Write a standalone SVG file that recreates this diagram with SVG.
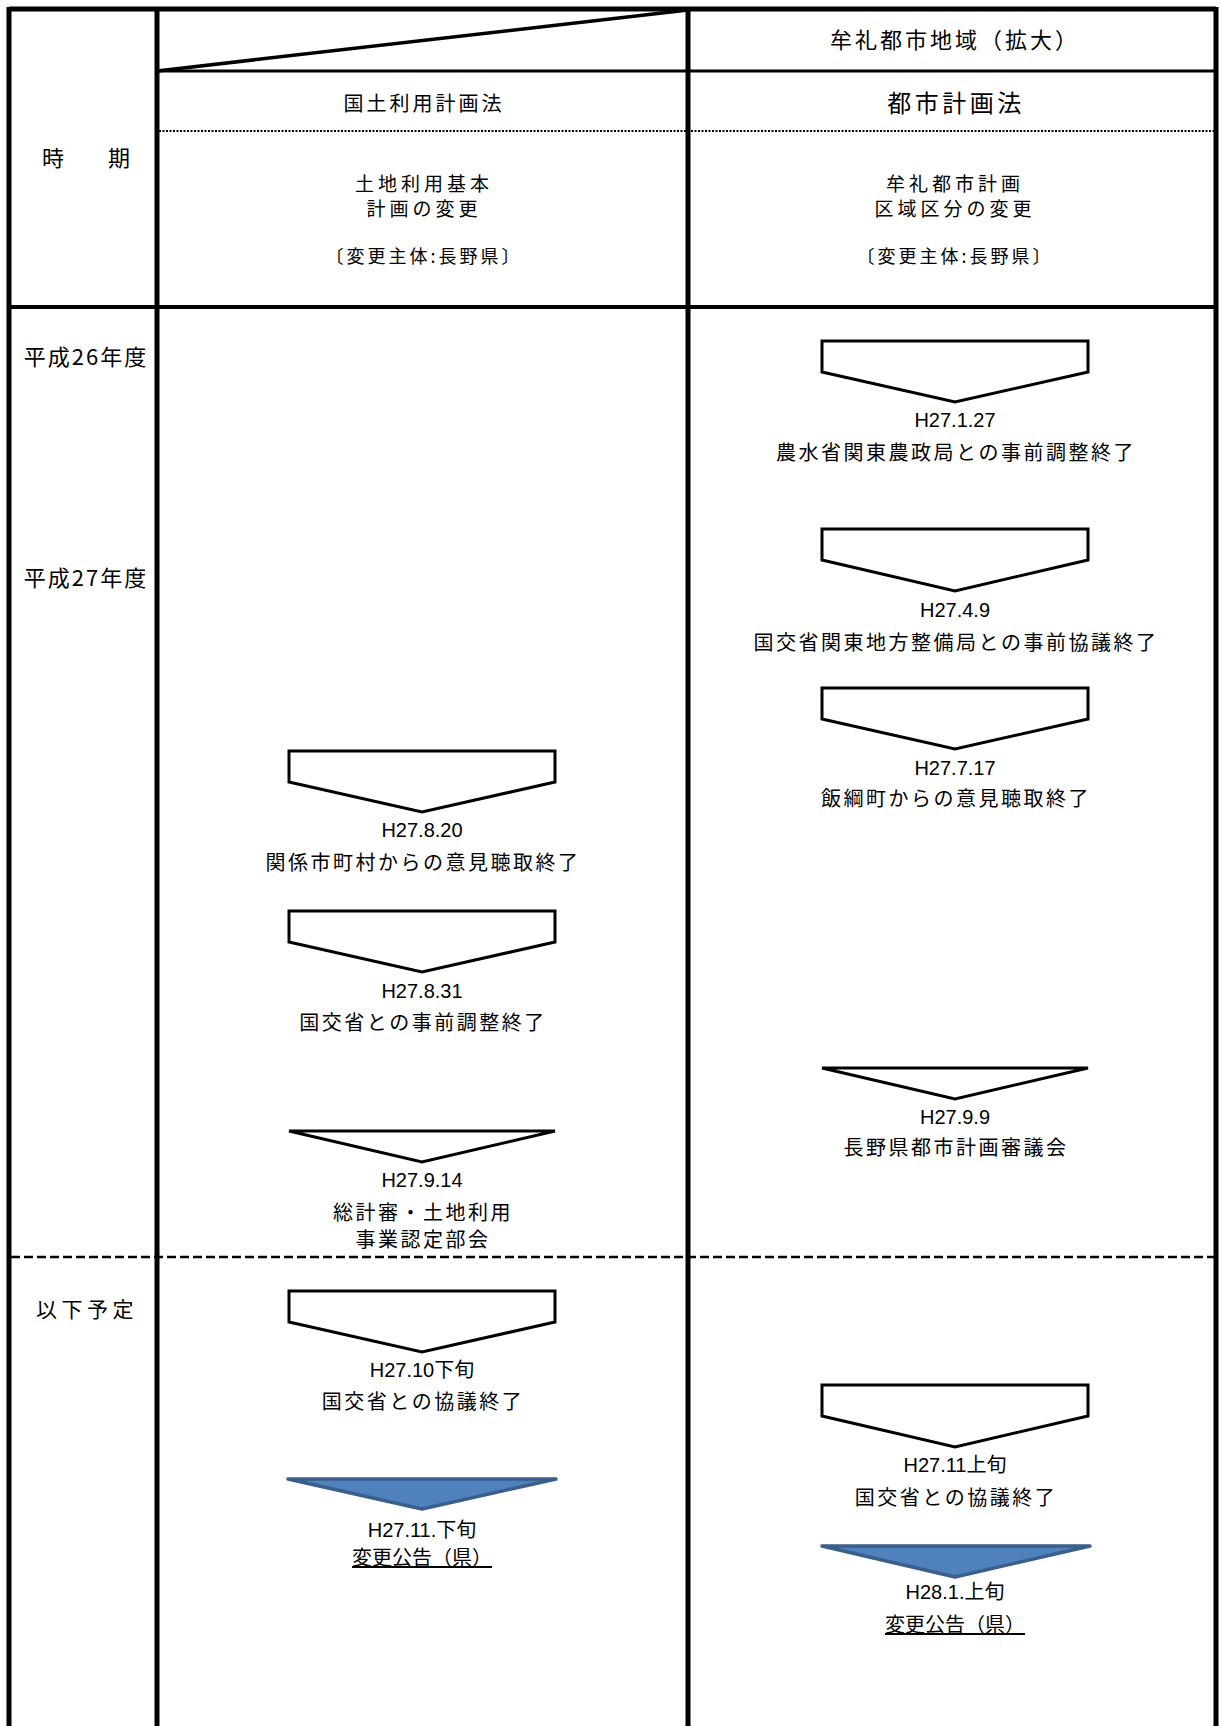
<svg xmlns="http://www.w3.org/2000/svg" width="1221" height="1726" viewBox="0 0 1221 1726">
<style>
.bg{fill:#ffffff}
.frame{stroke:#000;stroke-width:5;fill:none}
.thin{stroke:#000;stroke-width:3;fill:none}
.dot{stroke:#000;stroke-width:2;stroke-dasharray:2 1.5;fill:none}
.dash{stroke:#000;stroke-width:2.5;stroke-dasharray:9 4;fill:none}
.arw{fill:#fff;stroke:#000;stroke-width:3;stroke-linejoin:miter}
.blue{fill:#4F81BD;stroke:#3A5F8B;stroke-width:3.5;stroke-linejoin:round}
text{font-family:"Noto Sans CJK JP","Noto Sans CJK SC",sans-serif;fill:#000;text-anchor:middle}
.t{font-size:20px;letter-spacing:2.5px}
.d{font-family:"Liberation Sans","Noto Sans CJK JP",sans-serif;font-size:20px}
.h{font-size:20px;letter-spacing:3px}
.h2{font-size:19px;letter-spacing:4px}
.s{font-size:18px;letter-spacing:3px}
.p{font-size:22px;letter-spacing:2px}
.u{text-decoration:underline}
</style>
<rect class="bg" x="0" y="0" width="1221" height="1726"/>
<g id="table">
<line class="frame" x1="9" y1="9" x2="1216" y2="9"/>
<line class="frame" x1="9" y1="7" x2="9" y2="1726"/>
<line class="frame" x1="157" y1="7" x2="157" y2="1726"/>
<line class="frame" x1="688" y1="7" x2="688" y2="1726"/>
<line class="frame" x1="1216" y1="7" x2="1216" y2="1726"/>
<line class="thin" x1="157" y1="71" x2="1216" y2="71"/>
<line class="thin" x1="157" y1="71" x2="688" y2="10" style="stroke-width:3.5"/>
<line class="dot" x1="159" y1="131" x2="1214" y2="131"/>
<line class="thin" x1="9" y1="307" x2="1216" y2="307" style="stroke-width:4"/>
<line class="dash" x1="11" y1="1257" x2="1214" y2="1257"/>
</g>
<g id="header">
<text x="955" y="48" style="font-size:22px;letter-spacing:3px">牟礼都市地域（拡大）</text>
<text class="h" x="424" y="111">国土利用計画法</text>
<text x="956" y="112" style="font-size:24px;letter-spacing:3.5px">都市計画法</text>
<text x="86" y="166" style="font-size:22px">時　　期</text>
<text class="h2" x="424" y="191">土地利用基本</text>
<text class="h2" x="424" y="216">計画の変更</text>
<text class="s" x="424" y="263">〔変更主体:長野県〕</text>
<text class="h2" x="955" y="191">牟礼都市計画</text>
<text class="h2" x="955" y="216">区域区分の変更</text>
<text class="s" x="955" y="263">〔変更主体:長野県〕</text>
</g>
<g id="periods">
<text class="p" x="86" y="365">平成26年度</text>
<text class="p" x="86" y="586">平成27年度</text>
<text x="87" y="1317" style="font-size:21px;letter-spacing:4.5px">以下予定</text>
</g>
<g id="connectors">
<path id="r1" class="arw" d="M822,341 H1088 V372 L955,402 L822,372 Z"/>
<path id="r2" class="arw" d="M822,529 H1088 V560 L955,591 L822,560 Z"/>
<path id="r3" class="arw" d="M822,688 H1088 V719 L955,749 L822,719 Z"/>
<path id="r4" class="arw" d="M822,1068 H1088 L955,1099 Z"/>
<path id="r5" class="arw" d="M822,1385 H1088 V1416 L955,1447 L822,1416 Z"/>
<path id="r6" class="blue" d="M822,1546 H1090 L955,1577 Z"/>
<path id="l1" class="arw" d="M289,751 H555 V782 L422,812 L289,782 Z"/>
<path id="l2" class="arw" d="M289,911 H555 V942 L422,972 L289,942 Z"/>
<path id="l3" class="arw" d="M289,1131 H555 L422,1162 Z"/>
<path id="l4" class="arw" d="M289,1291 H555 V1322 L422,1352 L289,1322 Z"/>
<path id="l5" class="blue" d="M288,1479 H556 L422,1509 Z"/>
</g>
<g id="n-r1"><text class="d" x="955" y="427">H27.1.27</text><text class="t" x="956" y="460">農水省関東農政局との事前調整終了</text></g>
<g id="n-r2"><text class="d" x="955" y="617">H27.4.9</text><text class="t" x="956" y="650">国交省関東地方整備局との事前協議終了</text></g>
<g id="n-r3"><text class="d" x="955" y="775">H27.7.17</text><text class="t" x="956" y="806">飯綱町からの意見聴取終了</text></g>
<g id="n-r4"><text class="d" x="955" y="1124">H27.9.9</text><text class="t" x="956" y="1155">長野県都市計画審議会</text></g>
<g id="n-r5"><text class="d" x="955" y="1472">H27.11上旬</text><text class="t" x="956" y="1505">国交省との協議終了</text></g>
<g id="n-r6"><text class="d" x="955" y="1599">H28.1.上旬</text><text class="u" x="955" y="1632" style="font-size:20px">変更公告（県）</text></g>
<g id="n-l1"><text class="d" x="422" y="837">H27.8.20</text><text class="t" x="423" y="870">関係市町村からの意見聴取終了</text></g>
<g id="n-l2"><text class="d" x="422" y="998">H27.8.31</text><text class="t" x="423" y="1030">国交省との事前調整終了</text></g>
<g id="n-l3"><text class="d" x="422" y="1187">H27.9.14</text><text class="t" x="423" y="1220">総計審・土地利用</text><text class="t" x="423" y="1247">事業認定部会</text></g>
<g id="n-l4"><text class="d" x="422" y="1377">H27.10下旬</text><text class="t" x="423" y="1409">国交省との協議終了</text></g>
<g id="n-l5"><text class="d" x="422" y="1537">H27.11.下旬</text><text class="u" x="422" y="1565" style="font-size:20px">変更公告（県）</text></g>
</svg>
